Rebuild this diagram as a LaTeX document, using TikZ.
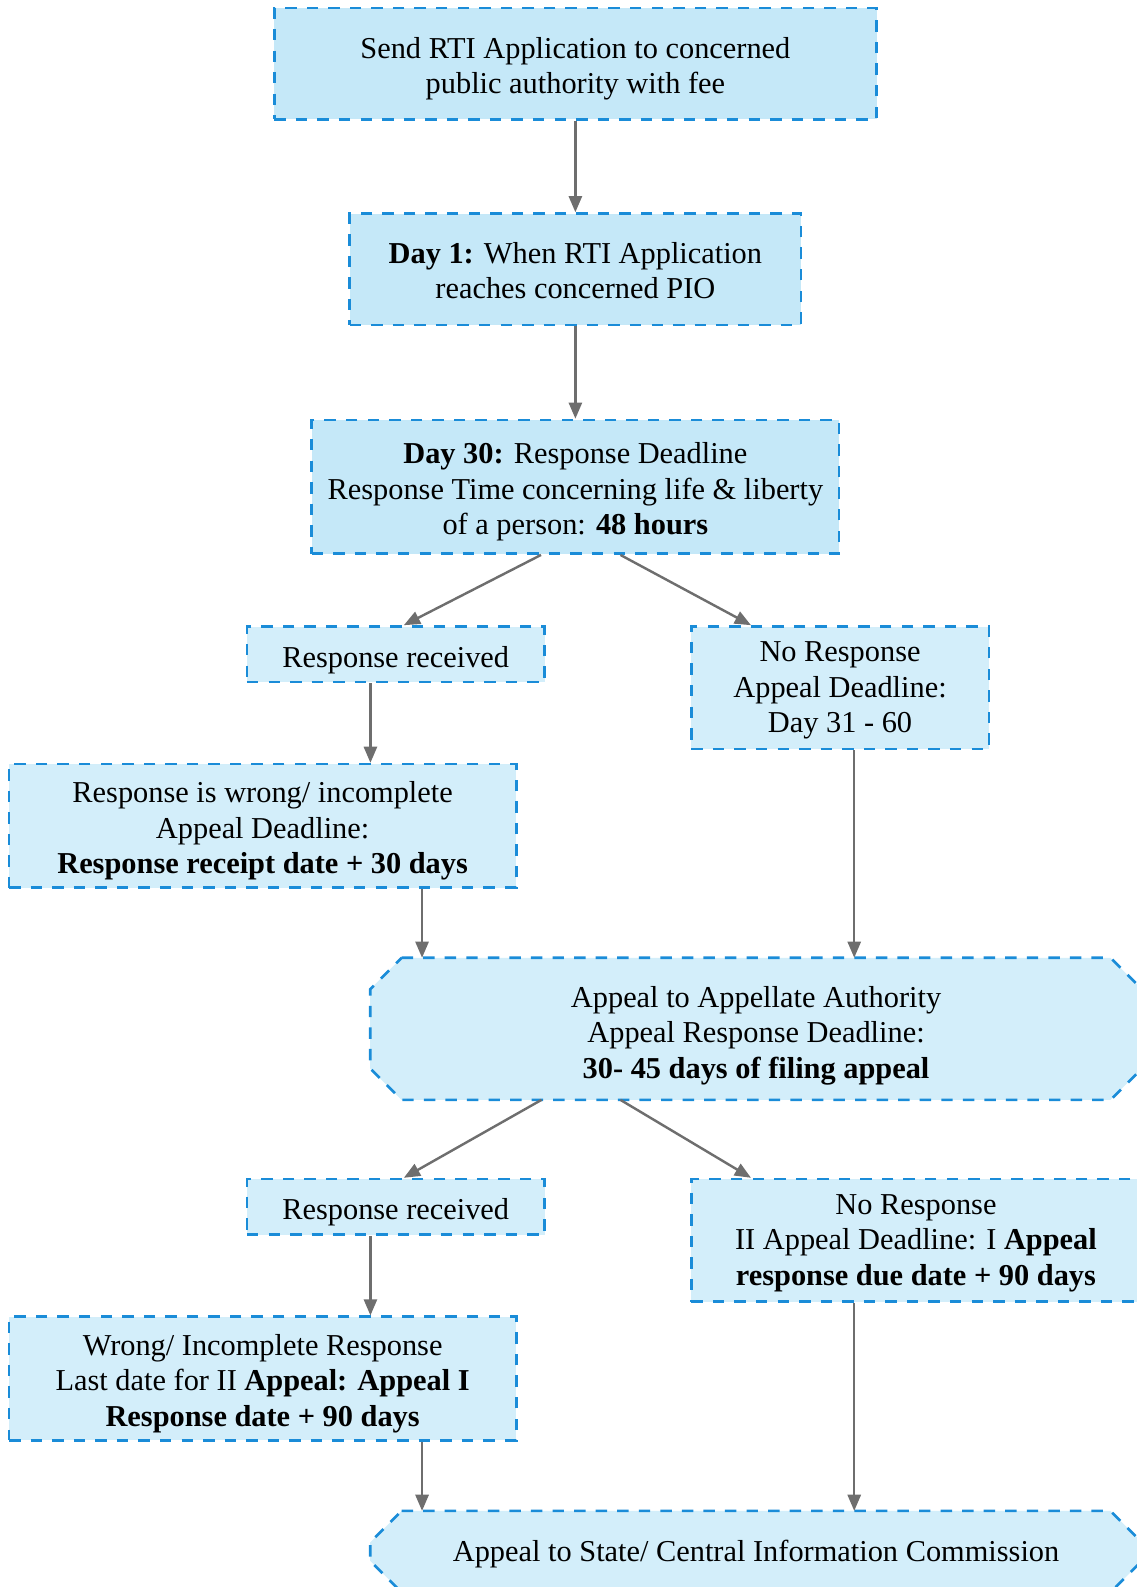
\documentclass[tikz,border=0pt]{standalone}
\usepackage{fontspec}
\setmainfont{Liberation Serif}
\usetikzlibrary{arrows.meta,backgrounds}
\definecolor{boxA}{HTML}{C5E8F8}
\definecolor{boxB}{HTML}{D3EEFA}
\definecolor{edgeblue}{HTML}{1A8CD8}
\definecolor{arrgray}{HTML}{6E6E6E}
\newcommand{\mystrut}[1]{\rule{0pt}{#1}}
\tikzset{
  base/.style={inner sep=0pt, align=center, font=\fontsize{30}{35}\selectfont},
  edge/.style={draw=edgeblue, line width=2.6pt, dash pattern=on 11.3pt off 10pt},
  boxa/.style={base, edge, rectangle, fill=boxA},
  boxb/.style={base, edge, rectangle, fill=boxB},
  octo/.style={base, rectangle},
  octofill/.style={edge, fill=boxB},
  arr/.style={draw=arrgray, line width=2.4pt, -{Triangle[length=16pt,width=13pt]}}
}
\newcommand{\octopath}[2]{%
  \draw[octofill] ([xshift=#2]#1.north west) -- ([xshift=-#2]#1.north east)
    -- ([yshift=-#2]#1.north east) -- ([yshift=#2]#1.south east)
    -- ([xshift=-#2]#1.south east) -- ([xshift=#2]#1.south west)
    -- ([yshift=#2]#1.south west) -- ([yshift=-#2]#1.north west) -- cycle;}
\begin{document}
\begin{tikzpicture}[x=1pt,y=-1pt]
\useasboundingbox (0,0) rectangle (1123,1568);
\node[boxa, minimum width=595pt, minimum height=110pt] (b1) at (568.5,63)
  {\mystrut{31pt}Send RTI Application to concerned\\public authority with fee};
\node[boxa, minimum width=446pt, minimum height=110pt] (b2) at (568.5,266)
  {\mystrut{24pt}\textbf{Day 1:} When RTI Application\\reaches concerned PIO};
\node[boxa, minimum width=521pt, minimum height=132pt] (b3) at (568.5,481)
  {\mystrut{31pt}\textbf{Day 30:} Response Deadline\\Response Time concerning life \& liberty\\of a person: \textbf{48 hours}};
\node[boxb, minimum width=294pt, minimum height=55pt] (rr1) at (391,646.5)
  {\mystrut{32pt}Response received};
\node[boxb, minimum width=294pt, minimum height=121pt] (nr1) at (830,679.5)
  {\mystrut{25pt}No Response\\Appeal Deadline:\\Day 31 - 60};
\node[boxb, minimum width=501pt, minimum height=122pt] (w1) at (259.5,816)
  {\mystrut{31pt}Response is wrong/ incomplete\\Appeal Deadline:\\\textbf{Response receipt date + 30 days}};
\node[octo, minimum width=762pt, minimum height=140pt] (a1) at (747,1016.5)
  {\mystrut{34pt}Appeal to Appellate Authority\\Appeal Response Deadline:\\\textbf{30- 45 days of filing appeal}};
\node[boxb, minimum width=294pt, minimum height=55pt] (rr2) at (391,1192.5)
  {\mystrut{32pt}Response received};
\node[boxb, minimum width=444pt, minimum height=121pt] (nr2) at (905,1225.5)
  {\mystrut{25pt}No Response\\II Appeal Deadline: I \textbf{Appeal}\\\textbf{response due date + 90 days}};
\node[boxb, minimum width=501pt, minimum height=122pt] (w2) at (259.5,1362)
  {\mystrut{31pt}Wrong/ Incomplete Response\\Last date for II \textbf{Appeal: Appeal I}\\\textbf{Response date + 90 days}};
\node[octo, minimum width=762pt, minimum height=80pt] (a2) at (747,1533)
  {\mystrut{25pt}Appeal to State/ Central Information Commission};

\begin{scope}[on background layer]
  \octopath{a1}{31pt}
  \octopath{a2}{31pt}
\end{scope}

\draw[arr] (b1.south) -- (b1.south |- b2.north);
\draw[arr] (b2.south) -- (b2.south |- b3.north);
\draw[arr] ([xshift=-34pt]b3.south) -- ([xshift=8pt]rr1.north);
\draw[arr] ([xshift=44.5pt]b3.south) -- ([xshift=-88pt]nr1.north);
\draw[arr] ([xshift=-25pt]rr1.south) -- ([xshift=-25pt]rr1.south |- w1.north);
\draw[arr] ([xshift=14pt]nr1.south) -- ([xshift=14pt]nr1.south |- a1.north);
\draw[arr] ([xshift=157.5pt]w1.south) -- ([xshift=157.5pt]w1.south |- a1.north);
\draw[arr] ([xshift=-212pt]a1.south) -- ([xshift=8pt]rr2.north);
\draw[arr] ([xshift=-134pt]a1.south) -- ([xshift=-163pt]nr2.north);
\draw[arr] ([xshift=-25pt]rr2.south) -- ([xshift=-25pt]rr2.south |- w2.north);
\draw[arr] ([xshift=-61pt]nr2.south) -- ([xshift=-61pt]nr2.south |- a2.north);
\draw[arr] ([xshift=157.5pt]w2.south) -- ([xshift=157.5pt]w2.south |- a2.north);
\end{tikzpicture}
\end{document}
